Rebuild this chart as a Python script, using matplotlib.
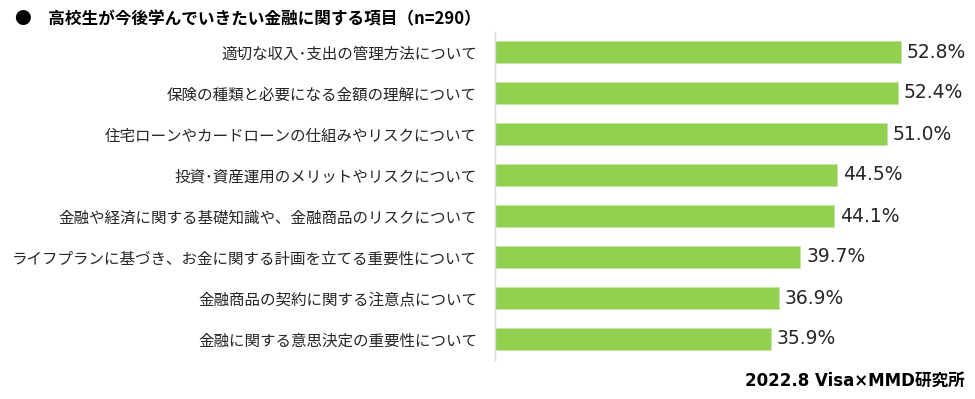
import matplotlib
matplotlib.use("Agg")
import matplotlib.pyplot as plt

plt.rcParams['font.family'] = ['Noto Sans CJK JP', 'DejaVu Sans']

categories = [
    "適切な収入･支出の管理方法について",
    "保険の種類と必要になる金額の理解について",
    "住宅ローンやカードローンの仕組みやリスクについて",
    "投資･資産運用のメリットやリスクについて",
    "金融や経済に関する基礎知識や、金融商品のリスクについて",
    "ライフプランに基づき、お金に関する計画を立てる重要性について",
    "金融商品の契約に関する注意点について",
    "金融に関する意思決定の重要性について",
]
values = [52.8, 52.4, 51.0, 44.5, 44.1, 39.7, 36.9, 35.9]
title = "●　高校生が今後学んでいきたい金融に関する項目（n=290）"
source = "2022.8 Visa×MMD研究所"

W, H = 975, 399
fig = plt.figure(figsize=(W/100, H/100), dpi=100)
left, right = 495, 956
top, bottom = 31.5, 359.5
ax = fig.add_axes([left/W, 1-bottom/H, (right-left)/W, (bottom-top)/H])

y = list(range(len(categories)))
ax.barh(y, values, height=0.54, color="#92D050", edgecolor="#C5E5A0", linewidth=0.6)
ax.set_xlim(0, 60)
ax.set_ylim(len(categories)-0.5, -0.5)
ax.set_yticks(y)
ax.set_yticklabels(categories, fontsize=11.2, color="#262626")
ax.tick_params(axis='y', length=0, pad=13)
ax.set_xticks([])
for s in ['top', 'right', 'bottom']:
    ax.spines[s].set_visible(False)
ax.spines['left'].set_color("#D9D9D9")
ax.spines['left'].set_linewidth(1)

for yi, v in zip(y, values):
    ax.text(v + 0.8, yi, f"{v:.1f}%", va='center', ha='left', fontsize=13.5,
            color="#262626", family=['DejaVu Sans'])

fig.text(15/W, 1-19/H, title, fontsize=12, fontweight='bold', color="#000000", va='center', ha='left')
fig.text(965/W, 1-381/H, source, fontsize=12, fontweight='bold', color="#000000",
         va='center', ha='right', family=['DejaVu Sans', 'Noto Sans CJK JP'])

fig.savefig("out.png", dpi=100)
